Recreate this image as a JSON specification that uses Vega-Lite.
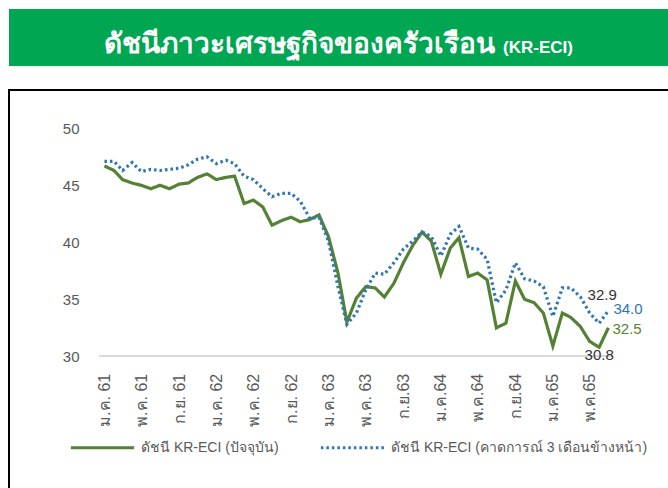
{
  "$schema": "https://vega.github.io/schema/vega-lite/v6.json",
  "padding": {"left": 8, "top": 9, "right": 0, "bottom": 0},
  "background": "white",
  "spacing": 24,
  "bounds": "flush",
  "config": {"font": "Liberation Sans"},
  "vconcat": [
    {
      "width": 662,
      "height": 57,
      "view": {"fill": "#00a651", "stroke": null},
      "data": {"values": [{"t": "ดัชนีภาวะเศรษฐกิจของครัวเรือน", "c": "(KR-ECI)"}]},
      "layer": [
        {
          "mark": {"type": "text", "align": "right", "baseline": "alphabetic", "dx": 155, "dy": 15, "fontSize": 28, "fill": "white", "fontWeight": "bold"},
          "encoding": {"text": {"field": "t"}}
        },
        {
          "mark": {"type": "text", "align": "left", "baseline": "alphabetic", "dx": 163, "dy": 15, "fontSize": 17, "fill": "white", "fontWeight": "bold", "font": "Liberation Sans"},
          "encoding": {"text": {"field": "c"}}
        }
      ]
    },
    {
      "width": 662,
      "height": 400,
      "view": {"fill": "white", "stroke": "#000000", "strokeWidth": 2},
      "data": {
        "values": [
          {"date": "2018-01-01", "current": 46.7, "forecast": 47.1},
          {"date": "2018-02-01", "current": 46.3, "forecast": 47.1},
          {"date": "2018-03-01", "current": 45.5, "forecast": 46.3},
          {"date": "2018-04-01", "current": 45.2, "forecast": 47.0},
          {"date": "2018-05-01", "current": 45.0, "forecast": 46.2},
          {"date": "2018-06-01", "current": 44.7, "forecast": 46.4},
          {"date": "2018-07-01", "current": 45.0, "forecast": 46.3},
          {"date": "2018-08-01", "current": 44.7, "forecast": 46.4},
          {"date": "2018-09-01", "current": 45.1, "forecast": 46.5},
          {"date": "2018-10-01", "current": 45.2, "forecast": 46.8},
          {"date": "2018-11-01", "current": 45.7, "forecast": 47.3},
          {"date": "2018-12-01", "current": 46.0, "forecast": 47.5},
          {"date": "2019-01-01", "current": 45.5, "forecast": 46.9},
          {"date": "2019-02-01", "current": 45.7, "forecast": 47.2},
          {"date": "2019-03-01", "current": 45.8, "forecast": 46.9},
          {"date": "2019-04-01", "current": 43.4, "forecast": 45.8},
          {"date": "2019-05-01", "current": 43.7, "forecast": 45.5},
          {"date": "2019-06-01", "current": 43.1, "forecast": 44.7},
          {"date": "2019-07-01", "current": 41.5, "forecast": 44.0},
          {"date": "2019-08-01", "current": 41.9, "forecast": 44.3},
          {"date": "2019-09-01", "current": 42.2, "forecast": 44.3},
          {"date": "2019-10-01", "current": 41.8, "forecast": 43.6},
          {"date": "2019-11-01", "current": 42.0, "forecast": 42.1},
          {"date": "2019-12-01", "current": 42.4, "forecast": 42.2},
          {"date": "2020-01-01", "current": 40.5, "forecast": 40.1},
          {"date": "2020-02-01", "current": 37.3, "forecast": 36.1},
          {"date": "2020-03-01", "current": 33.0, "forecast": 32.8},
          {"date": "2020-04-01", "current": 35.1, "forecast": 33.8},
          {"date": "2020-05-01", "current": 36.1, "forecast": 35.8},
          {"date": "2020-06-01", "current": 36.0, "forecast": 37.3},
          {"date": "2020-07-01", "current": 35.2, "forecast": 37.2},
          {"date": "2020-08-01", "current": 36.4, "forecast": 38.2},
          {"date": "2020-09-01", "current": 38.2, "forecast": 39.4},
          {"date": "2020-10-01", "current": 39.7, "forecast": 40.1},
          {"date": "2020-11-01", "current": 40.9, "forecast": 40.9},
          {"date": "2020-12-01", "current": 40.1, "forecast": 40.5},
          {"date": "2021-01-01", "current": 37.2, "forecast": 38.8},
          {"date": "2021-02-01", "current": 39.5, "forecast": 40.7},
          {"date": "2021-03-01", "current": 40.4, "forecast": 41.4},
          {"date": "2021-04-01", "current": 37.0, "forecast": 39.5},
          {"date": "2021-05-01", "current": 37.3, "forecast": 39.4},
          {"date": "2021-06-01", "current": 36.7, "forecast": 38.5},
          {"date": "2021-07-01", "current": 32.5, "forecast": 34.7},
          {"date": "2021-08-01", "current": 32.9, "forecast": 35.8},
          {"date": "2021-09-01", "current": 36.6, "forecast": 38.2},
          {"date": "2021-10-01", "current": 35.0, "forecast": 36.8},
          {"date": "2021-11-01", "current": 34.7, "forecast": 36.6},
          {"date": "2021-12-01", "current": 33.8, "forecast": 36.1},
          {"date": "2022-01-01", "current": 30.9, "forecast": 33.5},
          {"date": "2022-02-01", "current": 33.8, "forecast": 36.0},
          {"date": "2022-03-01", "current": 33.4, "forecast": 36.0},
          {"date": "2022-04-01", "current": 32.6, "forecast": 35.2},
          {"date": "2022-05-01", "current": 31.3, "forecast": 33.8},
          {"date": "2022-06-01", "current": 30.8, "forecast": 32.9},
          {"date": "2022-07-01", "current": 32.5, "forecast": 34.0}
        ],
        "format": {"parse": {"date": "date"}}
      },
      "transform": [{"fold": ["current", "forecast"], "as": ["key", "value"]}],
      "layer": [
        {
          "mark": {"type": "rule", "color": "#d9d9d9", "strokeWidth": 1.5},
          "encoding": {
            "x": {"datum": {"year": 2017, "month": 12, "date": 17, "utc": true}, "type": "temporal",
              "scale": {"type": "utc", "domain": [{"year": 2017, "month": 2, "date": 24, "utc": true}, {"year": 2023, "month": 1, "date": 21, "utc": true}]},
              "axis": {"orient": "bottom", "offset": -133.7, "title": null, "domain": false, "ticks": false, "grid": false, "labelAngle": 270, "labelPadding": 17, "labelOverlap": false, "labelFlush": false, "labelFontSize": 16, "labelColor": "#595959",
                "values": [
                  {"year": 2018, "month": 1, "date": 1, "utc": true}, {"year": 2018, "month": 5, "date": 1, "utc": true}, {"year": 2018, "month": 9, "date": 1, "utc": true},
                  {"year": 2019, "month": 1, "date": 1, "utc": true}, {"year": 2019, "month": 5, "date": 1, "utc": true}, {"year": 2019, "month": 9, "date": 1, "utc": true},
                  {"year": 2020, "month": 1, "date": 1, "utc": true}, {"year": 2020, "month": 5, "date": 1, "utc": true}, {"year": 2020, "month": 9, "date": 1, "utc": true},
                  {"year": 2021, "month": 1, "date": 1, "utc": true}, {"year": 2021, "month": 5, "date": 1, "utc": true}, {"year": 2021, "month": 9, "date": 1, "utc": true},
                  {"year": 2022, "month": 1, "date": 1, "utc": true}, {"year": 2022, "month": 5, "date": 1, "utc": true}
                ],
                "labelExpr": "(utcmonth(datum.value) == 0 ? 'ม.ค.' : utcmonth(datum.value) == 4 ? 'พ.ค.' : 'ก.ย.') + (utcyear(datum.value) * 12 + utcmonth(datum.value) >= 2020 * 12 + 8 ? '' : ' ') + (utcyear(datum.value) + 543 - 2500)"
              }
            },
            "x2": {"datum": {"year": 2022, "month": 7, "date": 16, "utc": true}},
            "y": {"datum": 30, "type": "quantitative",
              "scale": {"domain": [18.27, 53.36], "nice": false, "zero": false},
              "axis": {"orient": "left", "offset": -91, "title": null, "domain": false, "ticks": false, "grid": false, "values": [30, 35, 40, 45, 50], "labelPadding": 21, "labelFontSize": 15, "labelColor": "#595959"}
            }
          }
        },
        {
          "mark": {"type": "line", "strokeWidth": 3.2},
          "encoding": {
            "x": {"field": "date", "type": "temporal"},
            "y": {"field": "value", "type": "quantitative"},
            "color": {"field": "key", "type": "nominal",
              "scale": {"domain": ["current", "forecast"], "range": ["#548235", "#2e75b6"]},
              "legend": {"orient": "none", "legendX": 60, "legendY": 405, "direction": "horizontal", "title": null, "padding": 0,
                "symbolType": "stroke", "symbolSize": 4000, "symbolStrokeWidth": 3, "labelFontSize": 14, "labelColor": "#595959", "labelOffset": 5, "columnPadding": 35, "labelLimit": 0,
                "labelExpr": "datum.label == 'current' ? 'ดัชนี KR-ECI (ปัจจุบัน)' : 'ดัชนี KR-ECI (คาดการณ์ 3 เดือนข้างหน้า)'"}
            },
            "strokeDash": {"field": "key", "type": "nominal",
              "scale": {"domain": ["current", "forecast"], "range": [[1, 0], [2.5, 3]]}
            }
          }
        },
        {
          "transform": [{"filter": {"and": [{"field": "key", "equal": "forecast"}, {"field": "date", "equal": {"year": 2022, "month": 6, "date": 1, "utc": true}}]}}],
          "mark": {"type": "text", "align": "center", "baseline": "middle", "dx": 3, "dy": -28, "fontSize": 15, "color": "#333333"},
          "encoding": {
            "x": {"field": "date", "type": "temporal"},
            "y": {"field": "value", "type": "quantitative"},
            "text": {"field": "value", "type": "quantitative", "format": ".1f"}
          }
        },
        {
          "transform": [{"filter": {"and": [{"field": "key", "equal": "current"}, {"field": "date", "equal": {"year": 2022, "month": 6, "date": 1, "utc": true}}]}}],
          "mark": {"type": "text", "align": "center", "baseline": "middle", "dx": 0, "dy": 8, "fontSize": 15, "color": "#333333"},
          "encoding": {
            "x": {"field": "date", "type": "temporal"},
            "y": {"field": "value", "type": "quantitative"},
            "text": {"field": "value", "type": "quantitative", "format": ".1f"}
          }
        },
        {
          "transform": [{"filter": {"and": [{"field": "key", "equal": "forecast"}, {"field": "date", "equal": {"year": 2022, "month": 7, "date": 1, "utc": true}}]}}],
          "mark": {"type": "text", "align": "left", "baseline": "middle", "dx": 5, "dy": -2, "fontSize": 15, "color": "#2e75b6"},
          "encoding": {
            "x": {"field": "date", "type": "temporal"},
            "y": {"field": "value", "type": "quantitative"},
            "text": {"field": "value", "type": "quantitative", "format": ".1f"}
          }
        },
        {
          "transform": [{"filter": {"and": [{"field": "key", "equal": "current"}, {"field": "date", "equal": {"year": 2022, "month": 7, "date": 1, "utc": true}}]}}],
          "mark": {"type": "text", "align": "left", "baseline": "middle", "dx": 4, "dy": 1, "fontSize": 15, "color": "#548235"},
          "encoding": {
            "x": {"field": "date", "type": "temporal"},
            "y": {"field": "value", "type": "quantitative"},
            "text": {"field": "value", "type": "quantitative", "format": ".1f"}
          }
        }
      ]
    }
  ]
}
